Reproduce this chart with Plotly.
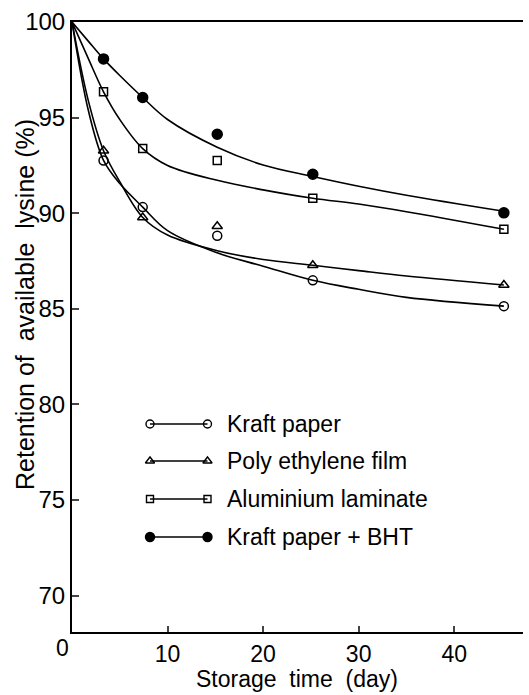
import plotly.graph_objects as go

# ---- data ----
days = [3.3, 7.4, 15.2, 25.2, 45.2]
kraft = [92.76, 90.32, 88.82, 86.49, 85.14]
poly = [93.27, 89.78, 89.32, 87.28, 86.25]
alum = [96.35, 93.38, 92.76, 90.78, 89.16]
bht = [98.07, 96.05, 94.13, 92.04, 90.02]

# hand-drawn fitted curves
curve_x = [0, 1.7, 3.3, 5, 7.4, 10, 15.2, 20, 25.2, 30, 35, 45.2]
kraft_fit = [100, 95.4, 92.76, 91.55, 90.32, 89.09, 87.93, 87.23, 86.49, 86.02, 85.6, 85.14]
poly_fit = [100, 95.9, 93.27, 91.65, 89.78, 88.86, 88.04, 87.58, 87.28, 87.0, 86.72, 86.25]
alum_fit = [100, 98.1, 96.35, 94.9, 93.38, 92.5, 91.72, 91.22, 90.78, 90.48, 90.08, 89.16]
bht_fit = [100, 99.0, 98.07, 97.2, 96.05, 94.9, 93.45, 92.52, 91.92, 91.41, 90.94, 90.1]

names = ["Kraft paper", "Poly ethylene film", "Aluminium laminate", "Kraft paper + BHT"]
symbols = ["circle-open", "triangle-up-open", "square-open", "circle"]
msizes = [9, 9, 8, 10]
x_ticks = [10, 20, 30, 40]
y_ticks = [70, 75, 80, 85, 90, 95, 100]

FONT = "Liberation Sans"
W, H = 529, 695
L, R, T, B = 72, 6, 22, 63
pw, ph = W - L - R, H - T - B

def px_x(p):
    return (p - L) / pw

def px_y(p):
    return (H - B - p) / ph

fig = go.Figure()
series = [kraft, poly, alum, bht]
fits = [kraft_fit, poly_fit, alum_fit, bht_fit]
for name, sym, ms, ys, fy in zip(names, symbols, msizes, series, fits):
    fig.add_trace(go.Scatter(x=curve_x, y=fy, mode="lines",
                             line=dict(color="black", width=1.6, shape="spline", smoothing=1.0),
                             showlegend=False, hoverinfo="skip"))
    fig.add_trace(go.Scatter(x=days, y=ys, mode="markers", name=name,
                             marker=dict(symbol=sym, size=ms, color="black",
                                         line=dict(color="black", width=1.5)),
                             showlegend=False))

# custom legend drawn on an overlay axis (0..1 frame)
leg_rows_px = [424, 461, 499, 537]
leg_x = [px_x(150), px_x(207.5)]
for name, sym, ms, rp in zip(names, symbols, msizes, leg_rows_px):
    yy = px_y(rp)
    fig.add_trace(go.Scatter(x=leg_x, y=[yy, yy], xaxis="x2", yaxis="y2", mode="lines+markers",
                             line=dict(color="black", width=1.4),
                             marker=dict(symbol=sym, size=ms - 1, color="black",
                                         line=dict(color="black", width=1.4)),
                             showlegend=False, hoverinfo="skip"))
    fig.add_annotation(text=name, xref="paper", yref="paper", x=px_x(225), y=yy,
                       xanchor="left", yanchor="middle", showarrow=False,
                       font=dict(family=FONT, size=23, color="black"))

fig.add_annotation(text="Retention of  available  lysine (%)", xref="paper", yref="paper",
                   x=px_x(25), y=px_y(305), textangle=-90, showarrow=False,
                   xanchor="center", yanchor="middle", font=dict(family=FONT, size=25, color="black"))
fig.add_annotation(text="Storage  time  (day)", xref="paper", yref="paper",
                   x=px_x(297), y=px_y(693), showarrow=False, borderpad=0,
                   xanchor="center", yanchor="bottom", font=dict(family=FONT, size=23, color="black"))
fig.add_annotation(text="0", xref="paper", yref="paper",
                   x=px_x(62), y=px_y(648), showarrow=False,
                   xanchor="center", yanchor="middle", font=dict(family=FONT, size=23, color="black"))

fig.update_layout(
    width=W, height=H, margin=dict(l=L, r=R, t=T, b=B),
    paper_bgcolor="white", plot_bgcolor="white",
    font=dict(family=FONT, size=24, color="black"),
    xaxis=dict(range=[0, 47.2], tickvals=x_ticks, ticks="inside", ticklen=6, tickwidth=1.5,
               showline=True, linecolor="black", linewidth=2, mirror=True, showgrid=False, zeroline=False,
               tickfont=dict(family=FONT, size=23)),
    yaxis=dict(range=[68.1, 100], tickvals=y_ticks, ticks="inside", ticklen=7, tickwidth=1.5,
               showline=True, linecolor="black", linewidth=2, showgrid=False, zeroline=False,
               tickfont=dict(family=FONT, size=24)),
    xaxis2=dict(range=[0, 1], overlaying="x", visible=False),
    yaxis2=dict(range=[0, 1], overlaying="y", visible=False),
)

fig.write_html("out.html", config={"displayModeBar": False},
               post_script="document.body.style.margin='0';document.body.style.overflow='hidden';")
